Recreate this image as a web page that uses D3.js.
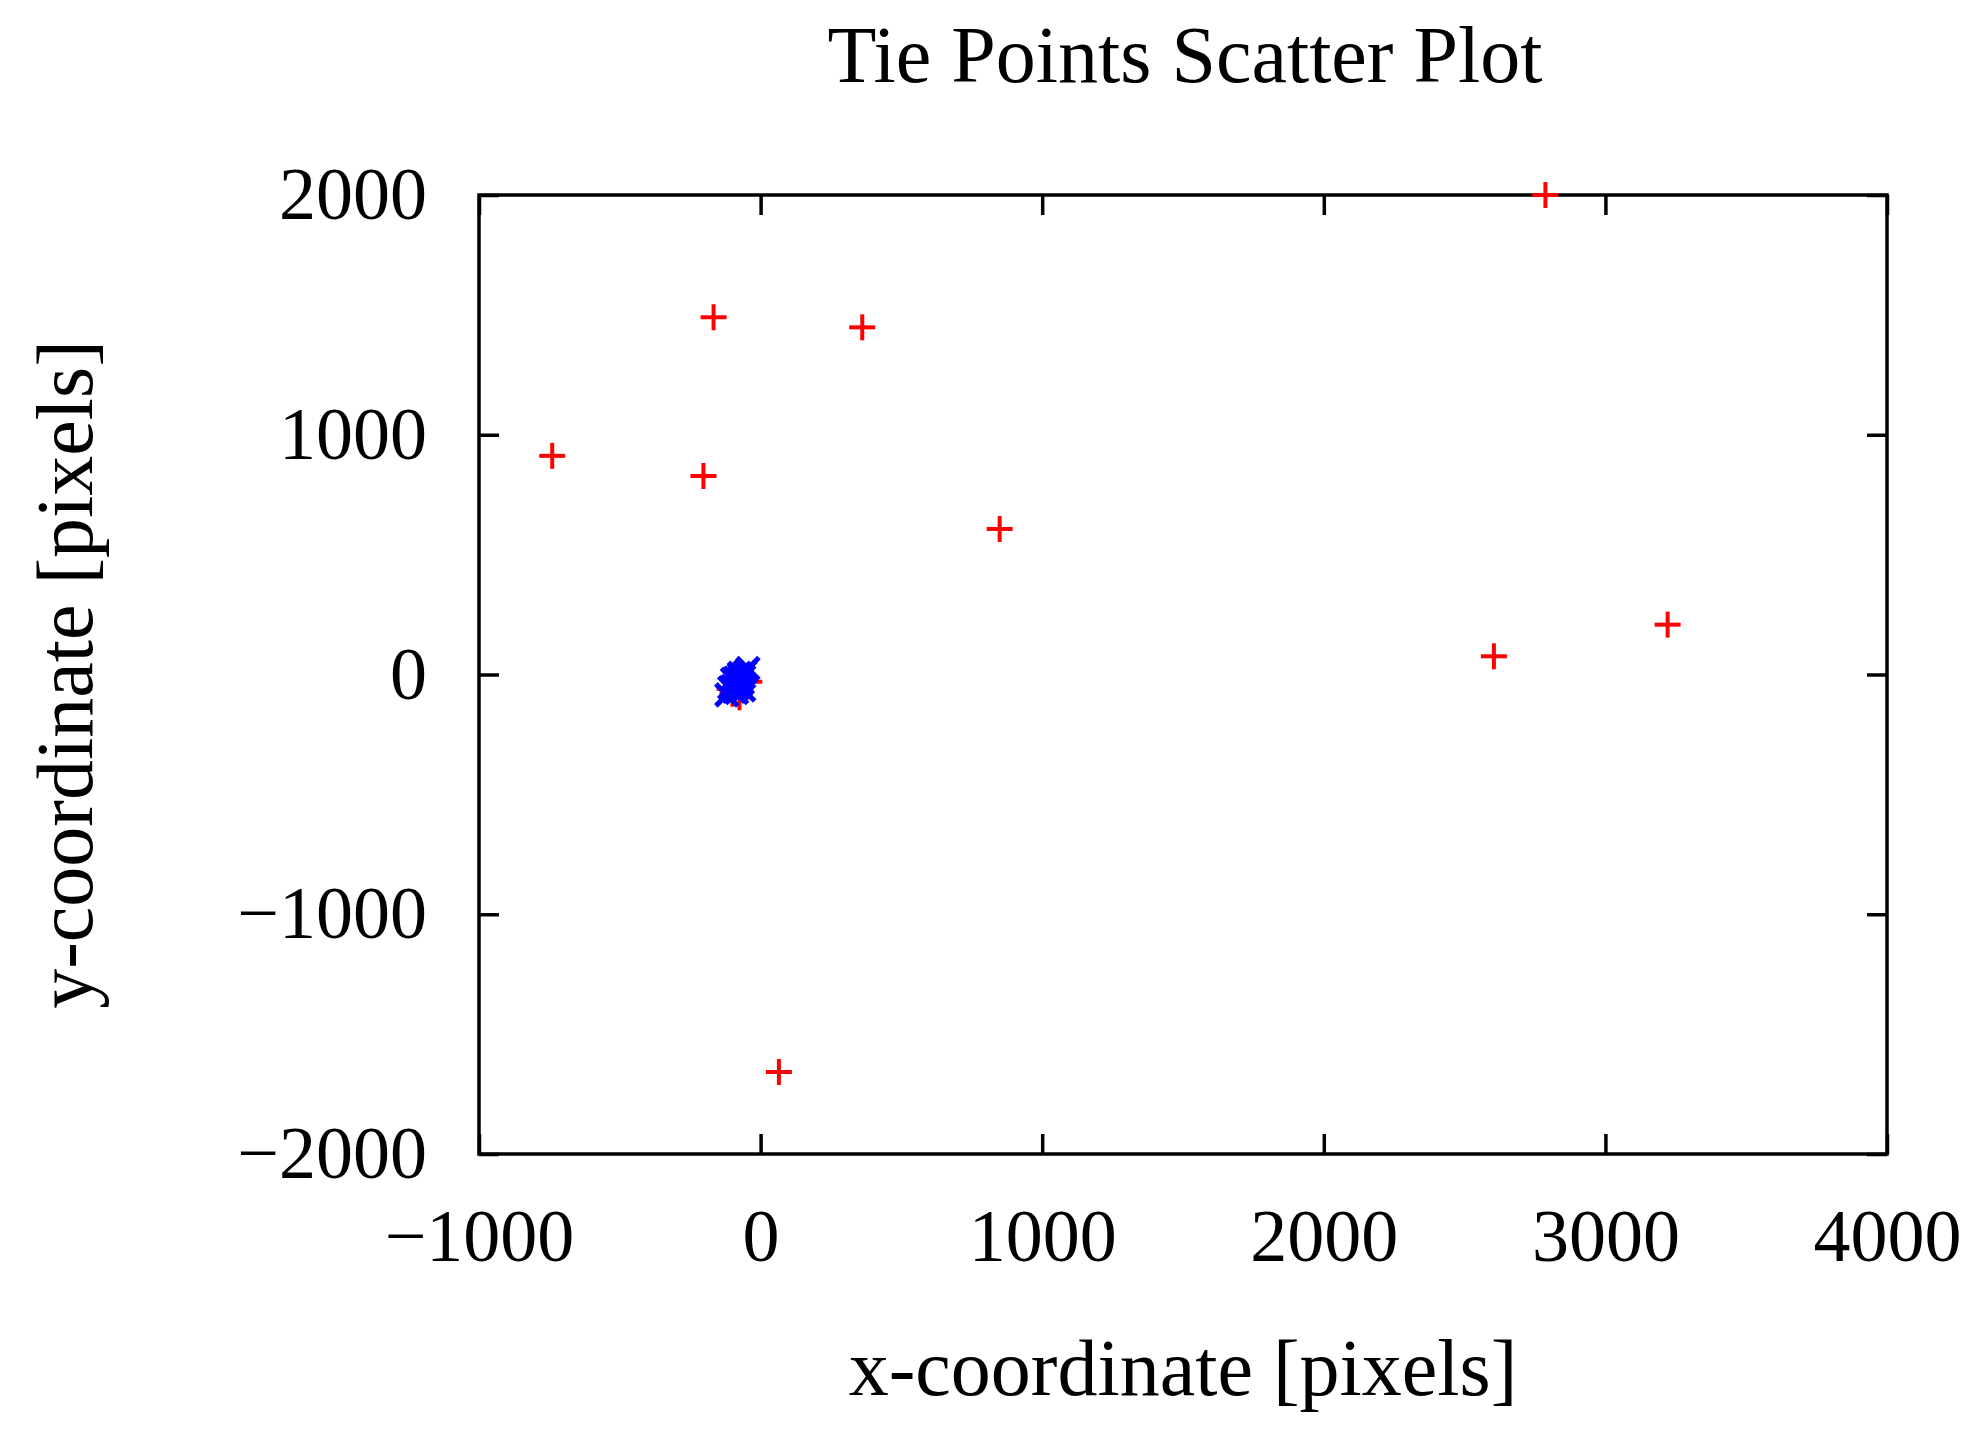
<!DOCTYPE html>
<html><head><meta charset="utf-8">
<script src="https://cdn.jsdelivr.net/npm/d3@7"></script>
<style>body{margin:0;background:#fff}text{font-family:"Liberation Serif",serif}</style>
</head><body><svg id="c" width="1967" height="1432"></svg>
<script>
const redX=[-740,-203,-167,361,849,2604,3221,2787,65,-60,-100,-40,-110,-75];
const redY=[912,828,1490,1448,607,76,208,2000,-1658,-10,-80,-30,-60,-95];
const blueX=[-90,-80,-70,-100,-60,-85,-75,-95,-65,-110,-55,-80,-70,-90,-120,-45,-85,-75,-100,-60];
const blueY=[-30,-20,-40,-50,-10,-60,0,-70,-35,-55,10,-45,-25,-15,-85,25,-75,5,-20,-65];
const xTicks=[-1000,0,1000,2000,3000,4000];
const yTicks=[-2000,-1000,0,1000,2000];
const fmt=d=>d<0?"\u2212"+Math.abs(d):String(d);
const svg=d3.select("#c");
const L=479,R=1887,T=195,B=1154;
const x=d3.scaleLinear().domain([-1000,4000]).range([L,R]);
const y=d3.scaleLinear().domain([-2000,2000]).range([B,T]);
const tk=20;
const fs=74;
svg.append("g").attr("transform",`translate(0,${B})`).call(d3.axisBottom(x).tickValues(xTicks).tickSize(-tk).tickPadding(tk+34).tickFormat(fmt));
svg.append("g").attr("transform",`translate(0,${T})`).call(d3.axisTop(x).tickValues(xTicks).tickSize(-tk).tickFormat(""));
svg.append("g").attr("transform",`translate(${L},0)`).call(d3.axisLeft(y).tickValues(yTicks).tickSize(-tk).tickPadding(tk+32).tickFormat(fmt));
svg.append("g").attr("transform",`translate(${R},0)`).call(d3.axisRight(y).tickValues(yTicks).tickSize(-tk).tickFormat(""));
svg.selectAll(".domain").remove();
svg.selectAll(".tick line").attr("stroke","#000").attr("stroke-width",3.5);
svg.selectAll(".tick text").attr("font-size",fs).attr("font-family","Liberation Serif").attr("fill","#000");
svg.append("rect").attr("x",L).attr("y",T).attr("width",R-L).attr("height",B-T).attr("fill","none").attr("stroke","#000").attr("stroke-width",3.5);
const s=13;
const red=svg.append("g").attr("stroke","#ff0000").attr("stroke-width",4);
redX.forEach((v,i)=>{const px=x(v),py=y(redY[i]);
 red.append("line").attr("x1",px-s).attr("x2",px+s).attr("y1",py).attr("y2",py);
 red.append("line").attr("x1",px).attr("x2",px).attr("y1",py-s).attr("y2",py+s);});
const blue=svg.append("g").attr("stroke","#0000ff").attr("stroke-width",5);
blueX.forEach((v,i)=>{const px=x(v),py=y(blueY[i]),b=11;
 blue.append("line").attr("x1",px-b).attr("x2",px+b).attr("y1",py-b).attr("y2",py+b);
 blue.append("line").attr("x1",px-b).attr("x2",px+b).attr("y1",py+b).attr("y2",py-b);});
svg.append("text").attr("x",1185).attr("y",82).attr("text-anchor","middle").attr("font-size",80).text("Tie Points Scatter Plot");
svg.append("text").attr("x",1183).attr("y",1395).attr("text-anchor","middle").attr("font-size",80).text("x-coordinate [pixels]");
svg.append("text").attr("transform",`translate(92,${(T+B)/2}) rotate(-90)`).attr("text-anchor","middle").attr("font-size",80).text("y-coordinate [pixels]");
</script></body></html>
